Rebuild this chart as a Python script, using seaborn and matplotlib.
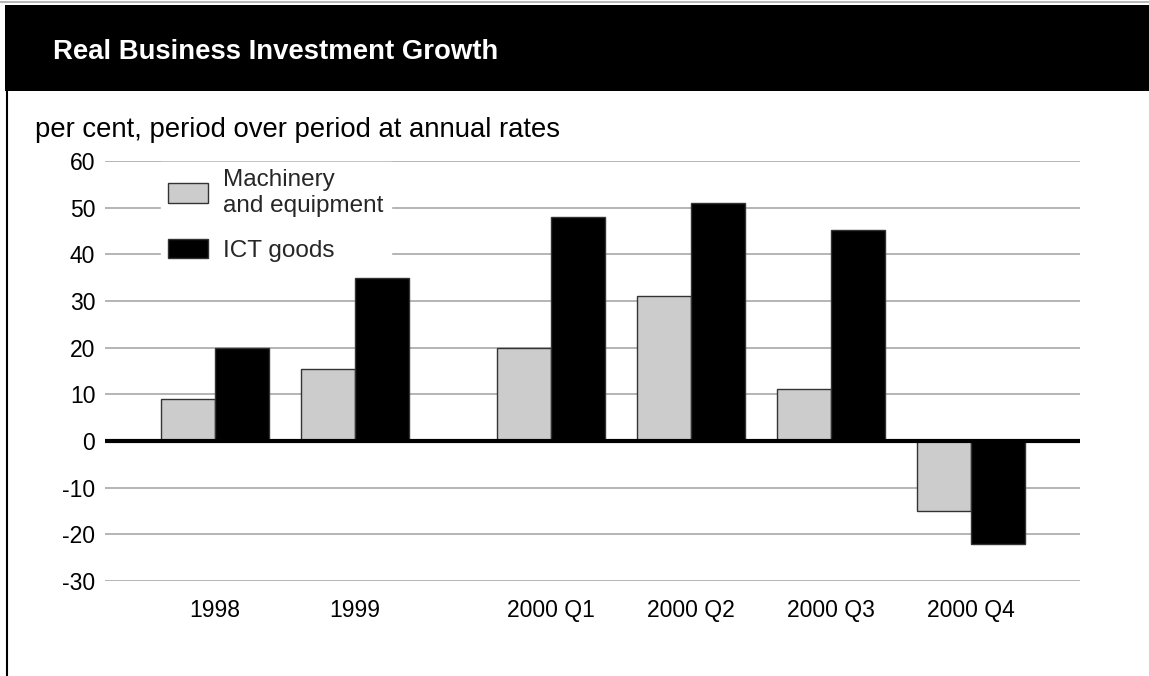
import numpy as np
import pandas as pd
import matplotlib
matplotlib.use("Agg")
import matplotlib.pyplot as plt
from matplotlib.patches import Rectangle, Patch
from matplotlib.lines import Line2D
import seaborn as sns

# ---- data -------------------------------------------------------------
periods = ["1998", "1999", "2000 Q1", "2000 Q2", "2000 Q3", "2000 Q4"]
machinery = [9.0, 15.5, 20.0, 31.0, 11.2, -15.0]
ict_goods = [20.0, 35.0, 48.0, 51.0, 45.2, -22.0]
series_names = ["Machinery\nand equipment", "ICT goods"]
y_ticks = [-30, -20, -10, 0, 10, 20, 30, 40, 50, 60]

# ---- layout: annual groups, then a wider gap before the quarters -------
group_step = [0.0, 1.0, 1.4, 1.0, 1.0, 1.0]
positions = np.cumsum(group_step)

df = pd.DataFrame({
    "pos": np.concatenate([positions, positions]),
    "series": [series_names[0]] * len(periods) + [series_names[1]] * len(periods),
    "value": machinery + ict_goods,
})

sns.set_theme(style="white")
plt.rcParams["font.family"] = ["Liberation Sans", "DejaVu Sans"]

W, H = 1149, 676
fig = plt.figure(figsize=(W / 100, H / 100), dpi=100)
fig.patch.set_facecolor("white")

ax_left, ax_right, ax_top, ax_bottom = 105, 1080, 161, 581
ax = fig.add_axes([ax_left / W, 1 - ax_bottom / H,
                   (ax_right - ax_left) / W, (ax_bottom - ax_top) / H])

palette = {series_names[0]: "#cccccc", series_names[1]: "#000000"}
sns.barplot(data=df, x="pos", y="value", hue="series", hue_order=series_names,
            palette=palette, native_scale=True, width=0.77, dodge=True,
            edgecolor="#333333", linewidth=1.0, saturation=1, legend=False,
            errorbar=None, ax=ax, zorder=2)

# axes styling
ax.set_ylim(-30, 60)
ax.set_xlim(-0.786, 6.18)
ax.set_yticks(y_ticks)
ax.set_yticklabels([str(t) for t in y_ticks])
ax.set_xticks(positions)
ax.set_xticklabels(periods)
ax.set_xlabel("")
ax.set_ylabel("")
for s in ax.spines.values():
    s.set_visible(False)
ax.tick_params(axis="both", length=0, labelsize=16.5, colors="black")
ax.tick_params(axis="y", pad=7)
ax.tick_params(axis="x", pad=13)
ax.yaxis.grid(True, color="#b4b4b4", linewidth=1.4, zorder=0)
ax.xaxis.grid(False)
ax.set_axisbelow(True)
ax.axhline(0, color="black", linewidth=3, zorder=4)

# legend
handles = [Patch(facecolor=palette[n], edgecolor="#333333", linewidth=1.0)
           for n in series_names]
leg = ax.legend(handles, series_names, loc="upper left",
                bbox_to_anchor=(161 / W, 1 - 162 / H), bbox_transform=fig.transFigure,
                frameon=True, fancybox=False, framealpha=1, edgecolor="white",
                facecolor="white", fontsize=17.5, handlelength=1.65,
                handleheight=0.85, handletextpad=0.6, labelspacing=0.9,
                borderpad=0.3, borderaxespad=0)
leg.set_zorder(5)

# header band with title
fig.add_artist(Rectangle((5 / W, 1 - 91 / H), 1 - 5 / W, 86 / H,
                         transform=fig.transFigure, facecolor="black",
                         edgecolor="none"))
fig.add_artist(Line2D([0, 1], [1 - 1.5 / H, 1 - 1.5 / H], transform=fig.transFigure,
                      color="#aaaaaa", linewidth=1.2))
fig.add_artist(Line2D([6.5 / W, 6.5 / W], [0, 1 - 91 / H], transform=fig.transFigure,
                      color="black", linewidth=1.5))
fig.text(53 / W, 1 - 52 / H, "Real Business Investment Growth", color="white",
         fontsize=19.8, fontweight="bold", va="center", ha="left",
         family=["Liberation Sans", "DejaVu Sans"])

fig.text(35 / W, 1 - 137 / H, "per cent, period over period at annual rates",
         fontsize=19.8, va="baseline", ha="left", color="black")

fig.savefig("out.png", dpi=100)
